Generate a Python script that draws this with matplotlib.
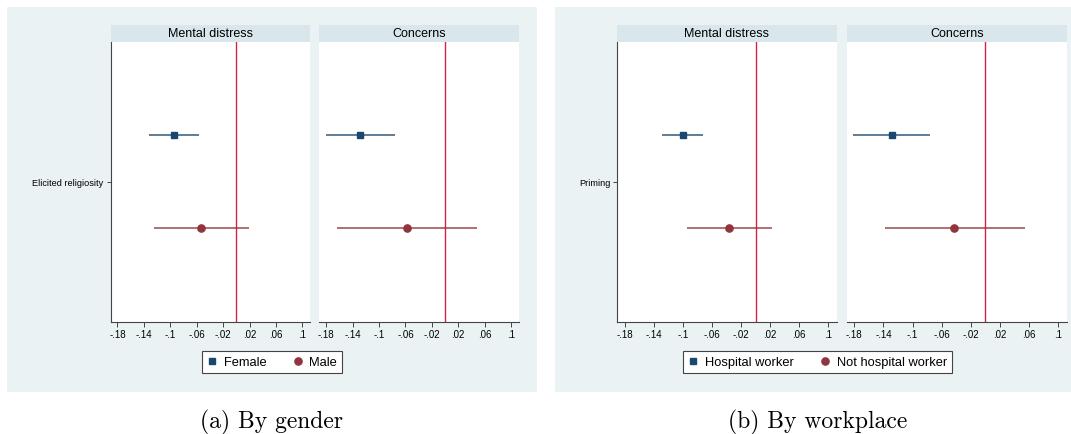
import matplotlib
matplotlib.use('Agg')
import matplotlib.pyplot as plt
from matplotlib.patches import Rectangle
from matplotlib.lines import Line2D

# Outcomes shown as facets
outcomes = ['Mental distress', 'Concerns']
xtick_vals = [-0.18, -0.14, -0.1, -0.06, -0.02, 0.02, 0.06, 0.1]
xtick_labels = ['-.18', '-.14', '-.1', '-.06', '-.02', '.02', '.06', '.1']

# (a) By gender: coefficient, lower CI, upper CI per outcome
female_est = [-0.095, -0.129]
female_lo = [-0.132, -0.181]
female_hi = [-0.056, -0.076]
male_est = [-0.053, -0.057]
male_lo = [-0.124, -0.163]
male_hi = [0.019, 0.049]

# (b) By workplace
hosp_est = [-0.100, -0.129]
hosp_lo = [-0.129, -0.182]
hosp_hi = [-0.072, -0.076]
nothosp_est = [-0.037, -0.043]
nothosp_lo = [-0.095, -0.138]
nothosp_hi = [0.022, 0.054]

W, H = 1071, 435
BG = '#EAF2F3'
STRIP = '#D9E6EB'
NAVY = '#1A476F'
MAROON = '#90353B'
ZERO = '#DA1F46'
AXC = '#444444'
FONT = 'Liberation Sans'

plt.rcParams['font.family'] = FONT

fig = plt.figure(figsize=(W / 100, H / 100), dpi=100)
fig.patch.set_facecolor('white')


def frac(x0, x1, y0, y1):
    return [x0 / W, 1 - y1 / H, (x1 - x0) / W, (y1 - y0) / H]


def panel(bg_x, subs, ylabel, series, legend_labels, caption):
    # background of the Stata graph region
    fig.patches.append(Rectangle((bg_x[0] / W, 1 - 393 / H), (bg_x[1] - bg_x[0]) / W, (393 - 8) / H,
                                 transform=fig.transFigure, facecolor=BG, edgecolor='none', zorder=-10))
    top, bot, strip_top = 42.7, 322.7, 26.0
    for i, (x0, x1) in enumerate(subs):
        ax = fig.add_axes(frac(x0, x1, top, bot))
        ax.set_facecolor('white')
        for (est, lo, hi), color, marker, ms, yy in series:
            ax.plot([lo[i], hi[i]], [yy, yy], color=color, lw=1.1, alpha=0.9,
                    solid_capstyle='butt', zorder=2)
            ax.plot([est[i]], [yy], marker=marker, color=color, ms=ms, mec=color, zorder=3, lw=0)
        ax.axvline(0, color=ZERO, lw=1.0, zorder=1)
        ax.set_xlim(-0.1905, 0.1115)
        ax.set_ylim(0.5, 1.5)
        ax.set_xticks(xtick_vals)
        ax.set_xticklabels(xtick_labels, fontsize=7)
        ax.tick_params(axis='x', length=3.5, width=0.7, color=AXC, pad=2)
        for s in ['top', 'right']:
            ax.spines[s].set_visible(False)
        ax.spines['bottom'].set_color(AXC)
        ax.spines['bottom'].set_linewidth(0.8)
        if i == 0:
            ax.spines['left'].set_color(AXC)
            ax.spines['left'].set_linewidth(0.8)
            ax.set_yticks([1])
            ax.set_yticklabels([ylabel], fontsize=6.6)
            ax.tick_params(axis='y', length=3, width=0.7, color=AXC, pad=2)
        else:
            ax.spines['left'].set_visible(False)
            ax.set_yticks([])
        # facet strip
        sh = (top - strip_top) / (bot - top)
        ax.add_patch(Rectangle((0, 1), 1, sh, transform=ax.transAxes, facecolor=STRIP,
                               edgecolor='none', clip_on=False))
        ax.text(0.5, 1 + sh / 2, outcomes[i], transform=ax.transAxes, ha='center', va='center',
                fontsize=9)
    cx = (bg_x[0] + min(bg_x[1], W + 10)) / 2
    handles = [Line2D([], [], ls='none', marker='s', color=NAVY, ms=5),
               Line2D([], [], ls='none', marker='o', color=MAROON, ms=5.2)]
    leg = fig.legend(handles, legend_labels, loc='center', bbox_to_anchor=(cx / W, 1 - 363 / H),
                     ncol=2, frameon=True, fancybox=False, framealpha=1, edgecolor=AXC,
                     fontsize=9.3, handlelength=0.8, handletextpad=0.5, columnspacing=2.0,
                     borderpad=0.4)
    leg.get_frame().set_linewidth(0.8)
    fig.text(cx / W, 1 - 422 / H, caption, ha='center', va='center', fontsize=17, family='cmr10')


panel((7, 537), [(110.5, 310), (319.3, 518.7)], 'Elicited religiosity',
      [((female_est, female_lo, female_hi), NAVY, 's', 5, 1 + 1 / 6),
       ((male_est, male_lo, male_hi), MAROON, 'o', 5.2, 1 - 1 / 6)],
      ['Female', 'Male'], '(a) By gender')

panel((555, 1080), [(617.3, 836.7), (846.7, 1066.7)], 'Priming',
      [((hosp_est, hosp_lo, hosp_hi), NAVY, 's', 5, 1 + 1 / 6),
       ((nothosp_est, nothosp_lo, nothosp_hi), MAROON, 'o', 5.2, 1 - 1 / 6)],
      ['Hospital worker', 'Not hospital worker'], '(b) By workplace')

fig.savefig('out.png', dpi=100)
